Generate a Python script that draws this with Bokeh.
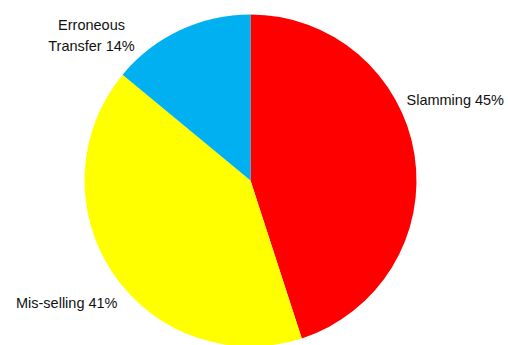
import math
from bokeh.plotting import figure
from bokeh.models import Range1d, ColumnDataSource
from bokeh.core.properties import value
from bokeh.embed import file_html
from bokeh.resources import INLINE

categories = ["Slamming", "Mis-selling", "Erroneous\nTransfer"]
shares = [45, 41, 14]
colors = ["#FF0000", "#FFFF00", "#00B0F0"]

W, H = 508, 345
cx, cy, r = 250, H - 180, 166

starts, ends = [], []
acc = 0.0
for s in shares:
    a0 = math.pi / 2 - acc / 100 * 2 * math.pi
    acc += s
    a1 = math.pi / 2 - acc / 100 * 2 * math.pi
    starts.append(a0)
    ends.append(a1)

src = ColumnDataSource(dict(start=starts, end=ends, color=colors))

p = figure(width=W, height=H, output_backend="svg", toolbar_location=None,
           x_range=Range1d(0, W), y_range=Range1d(0, H), min_border=0)
p.axis.visible = False
p.grid.visible = False
p.outline_line_color = None
p.background_fill_color = "white"

p.wedge(x=cx, y=cy, radius=r, start_angle="start", end_angle="end",
        direction="clock", fill_color="color", line_color=None, source=src)

labels = [f"{c} {s}%" for c, s in zip(categories, shares)]
lx = [406, 117, 91]
ly = [H - 99, H - 302, H - 35]
align = ["left", "right", "center"]
lsrc = ColumnDataSource(dict(x=lx, y=ly, t=labels, a=align))
p.text(x="x", y="y", text="t", text_align="a", text_baseline="middle",
       text_font=value("Liberation Sans"), text_font_size="14.5px",
       text_color="#111111", text_line_height=1.3, source=lsrc)

open("out.html", "w").write(file_html(p, INLINE))
